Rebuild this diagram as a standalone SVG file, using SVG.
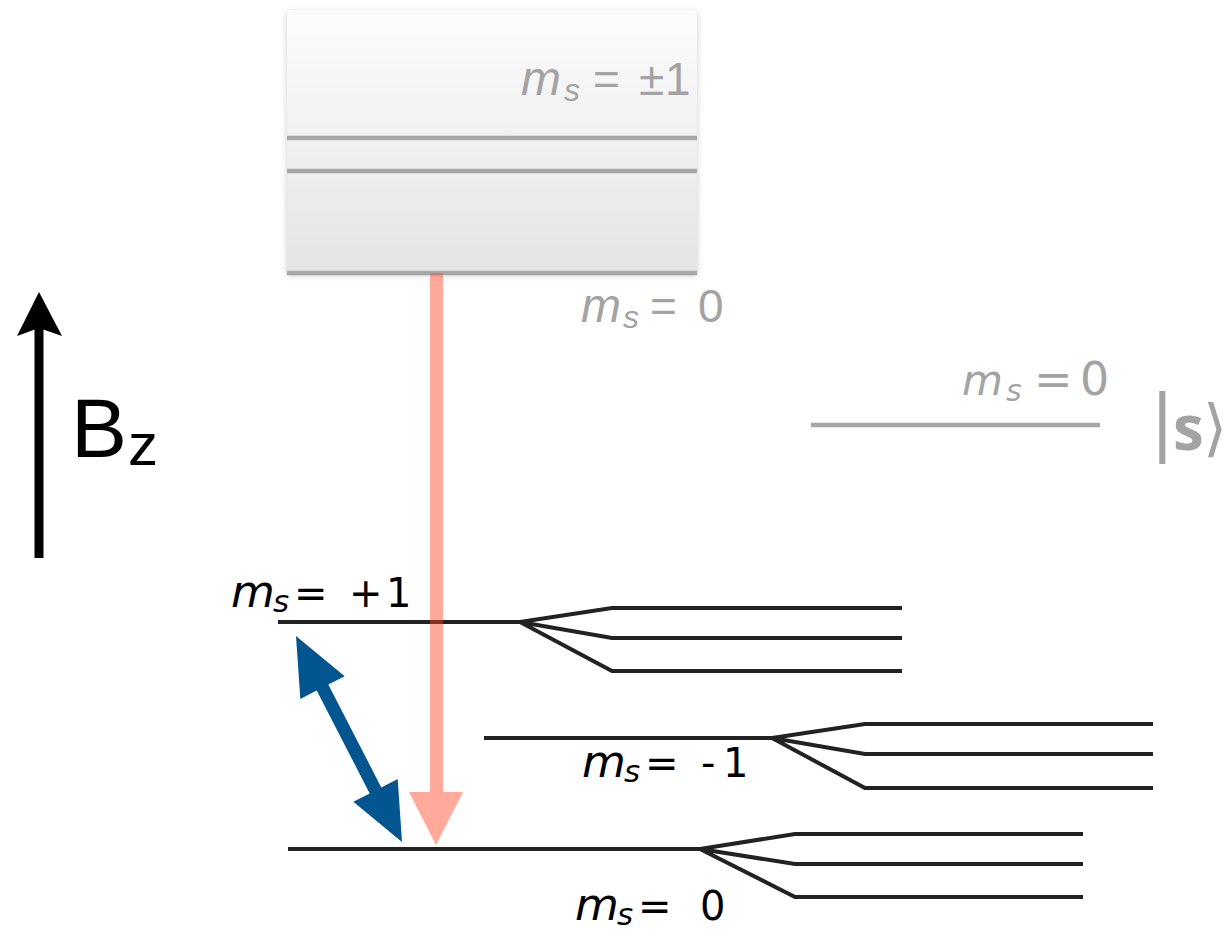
<svg xmlns="http://www.w3.org/2000/svg" width="1230" height="931" viewBox="0 0 1230 931">
<defs>
<linearGradient id="boxg" x1="0" y1="0" x2="0" y2="1">
<stop offset="0" stop-color="#fcfcfc"/>
<stop offset="1" stop-color="#e4e4e4"/>
</linearGradient>
<filter id="shadow" x="-10%" y="-10%" width="120%" height="125%">
<feDropShadow dx="0" dy="2" stdDeviation="3" flood-color="#000" flood-opacity="0.2"/>
</filter>
</defs>
<style>
.lvl{stroke:#222;stroke-width:4;fill:none;stroke-linejoin:miter}
.glvl{stroke:#a6a6a6;stroke-width:4.5;fill:none}
.blk{font-family:"DejaVu Sans",Verdana,sans-serif;font-size:40px;fill:#000}
.blk .m{font-style:oblique;font-size:45px}
.blk .s{font-style:oblique;font-size:31px}
.gry{font-family:"Liberation Sans",Arial,sans-serif;font-size:46px;fill:#a3a3a3}
.gry .m{font-style:italic;font-size:48px}
.gry .s{font-style:italic;font-size:32px}
.gry2{font-family:"DejaVu Sans",Verdana,sans-serif;font-size:46px;fill:#a3a3a3}
.gry2 .m{font-style:oblique;font-size:42px}
.gry2 .s{font-style:oblique;font-size:30px}
</style>
<rect width="1230" height="931" fill="#fff"/>

<g id="excited-state">
<rect x="287" y="10" width="410" height="263" fill="url(#boxg)" filter="url(#shadow)"/>
<line class="glvl" x1="287" y1="138" x2="697" y2="138"/>
<line class="glvl" x1="287" y1="171" x2="697" y2="171"/>
<line class="glvl" x1="287" y1="273" x2="697" y2="273"/>
<text class="gry"><tspan class="m" x="521" y="95">m</tspan><tspan class="s" x="564" y="101">s</tspan><tspan x="593" y="95">=</tspan><tspan x="639" y="95">±</tspan><tspan x="665" y="95">1</tspan></text>
<text class="gry"><tspan class="m" x="581" y="322">m</tspan><tspan class="s" x="623" y="328">s</tspan><tspan x="650" y="322">=</tspan><tspan x="698" y="322">0</tspan></text>
</g>

<g id="singlet">
<line class="glvl" x1="811" y1="425" x2="1100" y2="425"/>
<text class="gry2"><tspan class="m" x="962" y="395">m</tspan><tspan class="s" x="1006" y="401">s</tspan><tspan x="1034" y="395">=</tspan><tspan x="1080" y="395">0</tspan></text>
<text fill="#a3a3a3" font-family="'DejaVu Sans',sans-serif"><tspan x="1150" y="447" font-size="73px">|</tspan><tspan x="1173" y="450" font-size="62px" font-weight="bold" font-family="'Open Sans','DejaVu Sans',sans-serif">s</tspan><tspan x="1203" y="449" font-size="62px">⟩</tspan></text>
</g>

<g id="field">
<line x1="39" y1="558" x2="39" y2="326" stroke="#000" stroke-width="9"/>
<polygon points="39,292 62,336 39,328 17,336" fill="#000"/>
<text font-family="'Liberation Sans',Arial,sans-serif" fill="#000"><tspan x="71" y="457" font-size="84px">B</tspan><tspan x="128" y="465" font-size="60px">z</tspan></text>
</g>

<g id="level-plus1">
<path class="lvl" d="M278,622 H520 L612,608 H902 M520,622 L612,638 H902 M520,622 L612,671 H902"/>
<text class="blk"><tspan class="m" x="231" y="607">m</tspan><tspan class="s" x="273" y="612">s</tspan><tspan x="294" y="607">=</tspan><tspan x="349" y="607">+</tspan><tspan x="386" y="607">1</tspan></text>
</g>

<g id="level-minus1">
<path class="lvl" d="M484,738 H772 L865,724 H1153 M772,738 L865,754 H1153 M772,738 L865,788 H1153"/>
<text class="blk"><tspan class="m" x="582" y="777">m</tspan><tspan class="s" x="624" y="782">s</tspan><tspan x="645" y="777">=</tspan><tspan x="701" y="777">-</tspan><tspan x="723" y="777">1</tspan></text>
</g>

<g id="level-0">
<path class="lvl" d="M288,849 H700 L795,834 H1083 M700,849 L795,864 H1083 M700,849 L795,897 H1083"/>
<text class="blk"><tspan class="m" x="575" y="920">m</tspan><tspan class="s" x="617" y="925">s</tspan><tspan x="638" y="920">=</tspan><tspan x="700" y="920">0</tspan></text>
</g>

<g id="connectors">
<polygon id="optical-decay" points="430,273 443,273 443,792 463,792 436,845 409,792 430,792" fill="rgb(255,67,33)" fill-opacity="0.45"/>
<polygon id="microwave" points="296,636 344.7,676.2 328.3,684.6 381.3,787.4 397.7,779 402,842 353.3,801.8 369.7,793.4 316.7,690.6 300.3,699" fill="#03558f"/>
</g>
</svg>
